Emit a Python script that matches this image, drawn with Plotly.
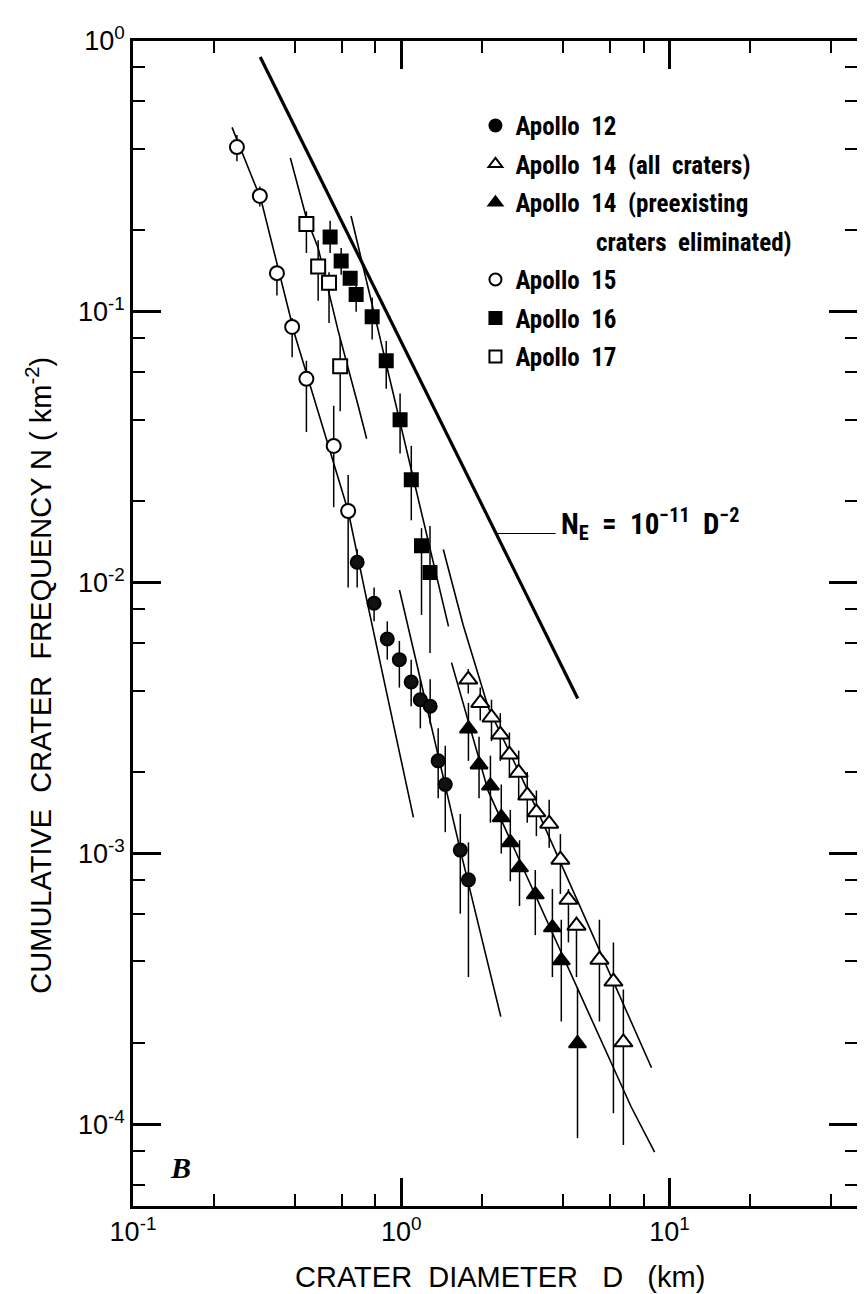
import numpy as np
import plotly.graph_objects as go

# ---------------- data ----------------
# Apollo 15 (open circles)
D15 = [0.244, 0.297, 0.344, 0.392, 0.443, 0.56, 0.634]
N15 = [0.406, 0.268, 0.139, 0.088, 0.0566, 0.032, 0.0184]
HI15 = [0.45, 0.29, 0.149, 0.095, 0.066, 0.045, 0.025]
LO15 = [0.36, 0.245, 0.115, 0.068, 0.036, 0.019, 0.0096]

# Apollo 17 (open squares)
D17 = [0.443, 0.49, 0.538, 0.592]
N17 = [0.211, 0.147, 0.128, 0.063]
HI17 = [0.235, 0.184, 0.14, 0.08]
LO17 = [0.165, 0.11, 0.091, 0.043]

# Apollo 16 (filled squares)
D16 = [0.543, 0.597, 0.645, 0.679, 0.779, 0.879, 0.99, 1.09, 1.19, 1.28]
N16 = [0.189, 0.154, 0.133, 0.116, 0.096, 0.066, 0.040, 0.024, 0.0137, 0.0109]
HI16 = [0.217, 0.172, 0.14, 0.125, 0.113, 0.078, 0.05, 0.032, 0.0159, 0.0162]
LO16 = [0.165, 0.137, 0.125, 0.100, 0.079, 0.052, 0.030, 0.017, 0.0076, 0.0055]

# Apollo 12 (filled circles)
D12 = [0.685, 0.792, 0.887, 0.984, 1.089, 1.178, 1.282, 1.373, 1.459, 1.66, 1.78]
N12 = [0.0119, 0.0084, 0.0062, 0.0052, 0.0043, 0.0037, 0.0035, 0.0022, 0.0018, 0.00103, 0.0008]
HI12 = [0.0133, 0.0096, 0.0072, 0.0061, 0.0052, 0.0044, 0.0044, 0.0029, 0.0025, 0.0014, 0.0011]
LO12 = [0.0096, 0.0072, 0.0052, 0.0041, 0.0035, 0.0029, 0.0030, 0.0016, 0.0012, 0.0006, 0.00035]

# Apollo 14, all craters (open triangles)
D14A = [1.778, 1.97, 2.17, 2.34, 2.53, 2.74, 2.95, 3.19, 3.56, 3.92, 4.2, 4.5, 5.48, 6.18, 6.73]
N14A = [0.00439, 0.0036, 0.00318, 0.00275, 0.00232, 0.00199, 0.00164, 0.00142, 0.00129,
        0.00095, 0.000676, 0.000542, 0.000406, 0.000337, 0.000201]
HI14A = [0.0048, 0.0041, 0.0037, 0.0033, 0.0028, 0.0024, 0.0020, 0.00171, 0.00158,
         0.00118, 0.00074, 0.00058, 0.00057, 0.00047, 0.000315]
LO14A = [0.0039, 0.0031, 0.0026, 0.0022, 0.0019, 0.0016, 0.0013, 0.00116, 0.00105,
         0.00071, 0.00047, 0.00035, 0.00024, 0.00011, 0.000084]

# Apollo 14, preexisting craters eliminated (filled triangles)
D14P = [1.78, 1.95, 2.15, 2.36, 2.55, 2.76, 3.16, 3.66, 3.95, 4.54]
N14P = [0.00289, 0.00213, 0.00178, 0.00136, 0.0011, 0.000888, 0.000706, 0.000533, 0.000403, 0.000199]
HI14P = [0.0036, 0.0027, 0.0023, 0.0018, 0.00145, 0.00112, 0.00087, 0.00074, 0.00057, 0.00032]
LO14P = [0.0022, 0.0016, 0.0013, 0.0010, 0.00079, 0.00064, 0.0005, 0.00035, 0.00024, 0.000089]

# Fitted curves
FIT15_D = [0.234, 0.30, 0.40, 0.50, 0.634, 0.75, 1.11]
FIT15_N = [0.48, 0.26, 0.083, 0.040, 0.0184, 0.0083, 0.00136]
FIT17_D = [0.386, 0.443, 0.49, 0.582, 0.691, 0.743]
FIT17_N = [0.370, 0.222, 0.172, 0.0851, 0.045, 0.034]
FIT16_D = [0.65, 1.50]
FIT16_N = [0.226, 0.0069]
FIT12_D = [0.985, 1.66, 2.35]
FIT12_N = [0.0094, 0.00103, 0.00025]
FIT14A_D = [1.435, 1.7, 2.11, 2.6, 3.24, 5.0, 8.57]
FIT14A_N = [0.01327, 0.0070, 0.00346, 0.00224, 0.00142, 0.00054, 0.000162]
FIT14P_D = [1.54, 2.11, 7.2, 8.8]
FIT14P_N = [0.00507, 0.0017, 0.000116, 0.000079]

# Equilibrium line N_E ~ D^-2
NE_D = [0.298, 4.55]
NE_N = [0.873, 0.00374]
NE_LEADER_D = [2.26, 3.76]
NE_LEADER_N = 0.0152

X_TICKS = [0.1, 1, 10]
X_TICKTEXT = ["10<sup>-1</sup>", "10<sup>0</sup>", "10<sup>1</sup>"]
Y_TICKS = [1e-4, 1e-3, 1e-2, 1e-1, 1]
Y_TICKTEXT = ["10<sup>-4</sup>", "10<sup>-3</sup>", "10<sup>-2</sup>", "10<sup>-1</sup>", "10<sup>0</sup>"]

LEGEND_NAMES = ["Apollo  12", "Apollo  14  (all  craters)", "Apollo  14  (preexisting",
                "              craters  eliminated)",
                "Apollo  15", "Apollo  16", "Apollo  17"]

# ---------------- figure ----------------
NARROW = "Liberation Sans Narrow, Roboto Condensed, DejaVu Sans Condensed, Arial Narrow, sans-serif"
WIDE = "Liberation Sans, Arial, Helvetica, sans-serif"
BLACK = "black"
CLEAR = "rgba(0,0,0,0)"

fig = go.Figure()

def add_line(xs, ys, width=1.6):
    fig.add_trace(go.Scatter(x=xs, y=ys, mode="lines", line=dict(color=BLACK, width=width),
                             showlegend=False, hoverinfo="skip"))

for xs, ys in [(FIT15_D, FIT15_N), (FIT17_D, FIT17_N), (FIT16_D, FIT16_N),
               (FIT12_D, FIT12_N), (FIT14A_D, FIT14A_N), (FIT14P_D, FIT14P_N)]:
    add_line(xs, ys)
add_line(NE_D, NE_N, width=3.2)
add_line(NE_LEADER_D, [NE_LEADER_N, NE_LEADER_N], width=1.2)


def add_points(d, n, hi, lo, symbol, size, fill, name):
    fig.add_trace(go.Scatter(
        x=d, y=n, mode="markers", name=name, showlegend=False,
        marker=dict(symbol=symbol, size=size, color=fill, line=dict(color=BLACK, width=2)),
        error_y=dict(type="data", symmetric=False,
                     array=[h - v for h, v in zip(hi, n)],
                     arrayminus=[v - l for v, l in zip(n, lo)],
                     width=0, thickness=1.5, color=BLACK),
    ))

add_points(D15, N15, HI15, LO15, "circle", 14, "white", "Apollo 15")
add_points(D17, N17, HI17, LO17, "square", 14, "white", "Apollo 17")
add_points(D16, N16, HI16, LO16, "square", 13, BLACK, "Apollo 16")
add_points(D12, N12, HI12, LO12, "circle", 13, "#111111", "Apollo 12")
add_points(D14A, N14A, HI14A, LO14A, "triangle-up", 16, "white", "Apollo 14 all")
add_points(D14P, N14P, HI14P, LO14P, "triangle-up", 15, BLACK, "Apollo 14 pre")

# legend entries (second line of the Apollo 14 entry has no symbol)
leg_styles = [("circle", BLACK, BLACK), ("triangle-up", "white", BLACK),
              ("triangle-up", BLACK, BLACK), ("circle", CLEAR, CLEAR),
              ("circle", "white", BLACK), ("square", BLACK, BLACK), ("square", "white", BLACK)]
for i, ((sym, fill, edge), name) in enumerate(zip(leg_styles, LEGEND_NAMES)):
    fig.add_trace(go.Scatter(x=[None], y=[None], mode="markers", name=name,
                             legendgroup=f"g{i}",
                             marker=dict(symbol=sym, size=11, color=fill,
                                         line=dict(color=edge, width=1.5))))

fig.add_annotation(x=0.589, y=0.585, xref="paper", yref="paper",
                   text="<b>N<sub>E</sub>  =  10<sup>−11</sup>  D<sup>−2</sup></b>",
                   showarrow=False, xanchor="left", yanchor="middle",
                   font=dict(family=NARROW, size=29, color=BLACK))

fig.add_annotation(x=0.048, y=0.017, xref="paper", yref="paper",
                   text="<b><i>B</i></b>", showarrow=False,
                   font=dict(family="Liberation Serif, DejaVu Serif, serif", size=30, color=BLACK))

fig.add_annotation(x=-0.130, y=0.456, xref="paper", yref="paper", textangle=-90,
                   xanchor="center", yanchor="middle",
                   text="CUMULATIVE  CRATER  FREQUENCY N ( km<sup>-2</sup>)",
                   showarrow=False, font=dict(family=WIDE, size=29, color=BLACK))
fig.add_annotation(x=0.507, y=-0.061, xref="paper", yref="paper",
                   xanchor="center", yanchor="middle",
                   text="CRATER  DIAMETER   D   (km)", showarrow=False,
                   font=dict(family=WIDE, size=29, color=BLACK))

minor_vals_x = [m * 10.0 ** e for e in (-1, 0, 1) for m in (2, 4, 6, 8) if m * 10.0 ** e < 50]
minor_vals_y = [m * 10.0 ** e for e in (-5, -4, -3, -2, -1) for m in (2, 4, 6, 8) if m * 10.0 ** e > 5e-5]

axis_common = dict(showgrid=False, zeroline=False, showline=True, linecolor=BLACK, linewidth=2.5,
                   mirror="ticks", ticks="inside", ticklen=28, tickwidth=2.5, tickcolor=BLACK,
                   automargin=False,
                   tickfont=dict(family=WIDE, size=27, color=BLACK))

fig.update_xaxes(type="log", range=[-1, np.log10(50)], tickmode="array", tickvals=X_TICKS,
                 ticktext=X_TICKTEXT,
                 minor=dict(ticks="inside", ticklen=12, tickwidth=2, tickcolor=BLACK,
                            tickmode="array", tickvals=minor_vals_x, showgrid=False),
                 **axis_common)
fig.update_yaxes(type="log", range=[np.log10(5e-5), 0], tickmode="array", tickvals=Y_TICKS,
                 ticktext=Y_TICKTEXT,
                 minor=dict(ticks="inside", ticklen=12, tickwidth=2, tickcolor=BLACK,
                            tickmode="array", tickvals=minor_vals_y, showgrid=False),
                 **axis_common)

fig.update_layout(
    width=865, height=1294,
    margin=dict(l=125, r=16, t=33, b=96),
    paper_bgcolor="white", plot_bgcolor="white",
    showlegend=True,
    legend=dict(x=0.473, y=0.947, xanchor="left", yanchor="top",
                bgcolor="rgba(0,0,0,0)", borderwidth=0,
                font=dict(family=NARROW, size=25, color=BLACK, weight="bold"),
                itemsizing="constant", traceorder="grouped", tracegroupgap=3, itemwidth=30),
)

fig.write_html("out.html")
